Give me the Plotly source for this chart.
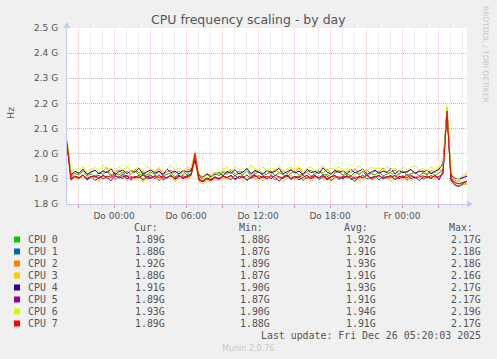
import numpy as np
import pandas as pd
import plotly.graph_objects as go

# ---------------- data (MHz, 20-minute samples) ----------------
start_time = "2025-12-24 20:05"
sample_freq = "20min"
x_range = ["2025-12-24 20:05", "2025-12-26 05:25"]

names = ["CPU 0", "CPU 1", "CPU 2", "CPU 3", "CPU 4", "CPU 5", "CPU 6", "CPU 7"]
colors = ["#00CC00", "#0066B3", "#FF8000", "#FFCC00", "#330099", "#990099", "#CCFF00", "#FF0000"]

cpu0 = [2055, 1906, 1922, 1915, 1930, 1912, 1920, 1908, 1925, 1918,
        1931, 1910, 1922, 1915, 1928, 1906, 1920, 1933, 1914, 1921,
        1909, 1926, 1917, 1930, 1912, 1919, 1924, 1908, 1921, 1931,
        1915, 1935, 1990, 1908, 1902, 1915, 1909, 1920, 1912, 1925,
        1918, 1930, 1911, 1924, 1916, 1933, 1909, 1921, 1927, 1913,
        1920, 1931, 1912, 1925, 1917, 1908, 1923, 1930, 1914, 1919,
        1926, 1910, 1921, 1932, 1915, 1918, 1907, 1924, 1929, 1913,
        1920, 1911, 1926, 1917, 1930, 1909, 1922, 1915, 1928, 1912,
        1919, 1925, 1908, 1921, 1932, 1914, 1920, 1927, 1911, 1923,
        1916, 1929, 1913, 1924, 1935, 2170, 1905, 1884, 1880, 1887,
        1890]
cpu1 = [2040, 1895, 1908, 1901, 1915, 1898, 1910, 1893, 1905, 1912,
        1900, 1916, 1896, 1907, 1902, 1913, 1894, 1909, 1904, 1917,
        1899, 1906, 1911, 1893, 1908, 1903, 1915, 1897, 1910, 1905,
        1912, 1920, 1975, 1896, 1890, 1903, 1897, 1908, 1900, 1912,
        1905, 1896, 1914, 1901, 1909, 1894, 1906, 1916, 1899, 1910,
        1903, 1913, 1895, 1908, 1901, 1917, 1898, 1906, 1911, 1893,
        1909, 1902, 1915, 1897, 1907, 1912, 1894, 1905, 1910, 1900,
        1914, 1896, 1908, 1903, 1916, 1899, 1906, 1911, 1895, 1909,
        1902, 1913, 1897, 1907, 1912, 1894, 1910, 1904, 1915, 1898,
        1908, 1901, 1914, 1896, 1925, 2180, 1892, 1874, 1870, 1878,
        1880]
cpu2 = [2045, 1912, 1930, 1922, 1940, 1918, 1928, 1935, 1920, 1932,
        1945, 1916, 1927, 1936, 1921, 1930, 1918, 1938, 1924, 1929,
        1915, 1933, 1926, 1941, 1919, 1928, 1935, 1922, 1931, 1917,
        1936, 1940, 2005, 1912, 1905, 1920, 1914, 1926, 1918, 1930,
        1924, 1937, 1919, 1931, 1926, 1942, 1917, 1928, 1934, 1921,
        1930, 1916, 1938, 1925, 1932, 1919, 1936, 1927, 1943, 1920,
        1929, 1935, 1918, 1931, 1924, 1940, 1921, 1927, 1934, 1916,
        1932, 1925, 1939, 1920, 1928, 1936, 1919, 1931, 1926, 1944,
        1922, 1929, 1935, 1917, 1930, 1924, 1938, 1921, 1927, 1933,
        1919, 1936, 1925, 1940, 1930, 2180, 1910, 1893, 1890, 1905,
        1920]
cpu3 = [2030, 1890, 1906, 1898, 1912, 1894, 1903, 1915, 1889, 1908,
        1900, 1913, 1895, 1905, 1918, 1892, 1907, 1899, 1911, 1886,
        1904, 1916, 1897, 1909, 1893, 1906, 1912, 1890, 1903, 1914,
        1898, 1910, 1970, 1888, 1880, 1895, 1885, 1900, 1892, 1906,
        1899, 1912, 1894, 1907, 1888, 1903, 1915, 1896, 1909, 1891,
        1905, 1913, 1897, 1908, 1886, 1902, 1916, 1893, 1906, 1899,
        1911, 1890, 1904, 1914, 1896, 1908, 1887, 1903, 1912, 1895,
        1907, 1899, 1915, 1891, 1905, 1910, 1894, 1902, 1918, 1897,
        1906, 1889, 1904, 1913, 1898, 1909, 1892, 1905, 1914, 1896,
        1903, 1911, 1893, 1907, 1920, 2160, 1890, 1872, 1870, 1876,
        1880]
cpu4 = [2035, 1915, 1930, 1922, 1938, 1918, 1927, 1934, 1920, 1931,
        1924, 1940, 1917, 1929, 1935, 1921, 1932, 1926, 1943, 1919,
        1928, 1936, 1922, 1931, 1917, 1939, 1925, 1930, 1920, 1934,
        1927, 1933, 1975, 1915, 1908, 1920, 1905, 1918, 1925, 1912,
        1930, 1922, 1937, 1919, 1928, 1941, 1921, 1933, 1926, 1918,
        1935, 1924, 1930, 1942, 1920, 1929, 1936, 1923, 1931, 1917,
        1938, 1925, 1930, 1921, 1944, 1927, 1919, 1934, 1926, 1932,
        1920, 1937, 1924, 1931, 1939, 1918, 1928, 1935, 1922, 1930,
        1926, 1941, 1919, 1933, 1925, 1929, 1937, 1921, 1932, 1927,
        1935, 1920, 1930, 1938, 1962, 2170, 1915, 1902, 1900, 1905,
        1910]
cpu5 = [2040, 1898, 1910, 1903, 1916, 1896, 1908, 1912, 1900, 1915,
        1905, 1892, 1911, 1907, 1918, 1899, 1909, 1904, 1914, 1895,
        1908, 1913, 1901, 1917, 1897, 1906, 1911, 1903, 1915, 1900,
        1909, 1914, 1985, 1895, 1888, 1900, 1893, 1905, 1898, 1910,
        1904, 1915, 1897, 1909, 1912, 1894, 1907, 1916, 1901, 1910,
        1899, 1913, 1906, 1890, 1908, 1914, 1902, 1911, 1896, 1907,
        1915, 1900, 1909, 1904, 1917, 1895, 1908, 1912, 1898, 1906,
        1911, 1903, 1889, 1910, 1905, 1916, 1899, 1908, 1913, 1901,
        1907, 1914, 1896, 1910, 1904, 1918, 1900, 1909, 1893, 1906,
        1912, 1902, 1915, 1898, 1930, 2170, 1895, 1876, 1870, 1882,
        1890]
cpu6 = [2060, 1925, 1940, 1932, 1950, 1928, 1938, 1945, 1930, 1955,
        1936, 1942, 1929, 1948, 1934, 1952, 1927, 1940, 1945, 1931,
        1950, 1938, 1933, 1946, 1926, 1941, 1953, 1935, 1944, 1930,
        1948, 1942, 1995, 1920, 1905, 1915, 1902, 1925, 1918, 1938,
        1945, 1932, 1950, 1936, 1941, 1928, 1955, 1939, 1933, 1947,
        1930, 1944, 1937, 1952, 1929, 1940, 1946, 1934, 1950, 1927,
        1941, 1948, 1932, 1938, 1954, 1930, 1943, 1936, 1949, 1928,
        1945, 1933, 1940, 1951, 1935, 1929, 1947, 1938, 1944, 1931,
        1950, 1937, 1942, 1930, 1948, 1934, 1945, 1952, 1936, 1941,
        1933, 1947, 1939, 1950, 1945, 2190, 1925, 1905, 1900, 1915,
        1930]
cpu7 = [2045, 1900, 1912, 1905, 1915, 1902, 1910, 1907, 1914, 1899,
        1911, 1906, 1916, 1903, 1909, 1913, 1901, 1910, 1905, 1915,
        1908, 1902, 1913, 1906, 1911, 1904, 1916, 1900, 1909, 1912,
        1905, 1915, 2000, 1898, 1893, 1904, 1897, 1908, 1902, 1911,
        1906, 1913, 1900, 1910, 1904, 1915, 1902, 1909, 1912, 1906,
        1911, 1901, 1914, 1907, 1903, 1912, 1899, 1910, 1905, 1916,
        1902, 1909, 1913, 1904, 1911, 1900, 1908, 1914, 1903, 1910,
        1906, 1912, 1899, 1911, 1905, 1915, 1902, 1909, 1913, 1904,
        1910, 1906, 1914, 1900, 1911, 1905, 1916, 1903, 1909, 1912,
        1904, 1913, 1907, 1910, 1920, 2170, 1898, 1885, 1880, 1884,
        1890]
series = [cpu0, cpu1, cpu2, cpu3, cpu4, cpu5, cpu6, cpu7]

cur_vals = ["1.89G", "1.88G", "1.92G", "1.88G", "1.91G", "1.89G", "1.93G", "1.89G"]
min_vals = ["1.88G", "1.87G", "1.89G", "1.87G", "1.90G", "1.87G", "1.90G", "1.88G"]
avg_vals = ["1.92G", "1.91G", "1.93G", "1.91G", "1.93G", "1.91G", "1.94G", "1.91G"]
max_vals = ["2.17G", "2.18G", "2.18G", "2.16G", "2.17G", "2.17G", "2.19G", "2.17G"]

y_ticks = [1.8, 1.9, 2.0, 2.1, 2.2, 2.3, 2.4, 2.5]
y_ticktext = ["1.8 G", "1.9 G", "2.0 G", "2.1 G", "2.2 G", "2.3 G", "2.4 G", "2.5 G"]
x_major = pd.date_range("2025-12-24 21:00", "2025-12-26 03:00", freq="3h")
x_ticktext = ["", "Do 00:00", "", "Do 06:00", "", "Do 12:00", "", "Do 18:00", "", "Fr 00:00", ""]

# ---------------- figure ----------------
W, H = 497, 359
L, R, T, B = 67, 30, 28, 155
PW, PH = W - L - R, H - T - B

def px(x):
    return (x - L) / PW

def py(y):
    return (H - B - y) / PH

times = pd.date_range(start_time, periods=len(cpu0), freq=sample_freq)

fig = go.Figure()
for name, col, vals in zip(names, colors, series):
    fig.add_trace(go.Scatter(x=times, y=np.array(vals) / 1000.0, mode="lines",
                             name=name, line=dict(color=col, width=1),
                             showlegend=False, hoverinfo="skip"))

MAJ = "#e8b0b0"
MAJ_V = "#f0c8c8"
MIN = "#dcdcdc"
AX = "#c8c8f4"
TXT = "#555555"
tick_font = dict(family="DejaVu Sans", size=9, color=TXT)

fig.update_layout(
    width=W, height=H,
    margin=dict(l=L, r=R, t=T, b=B, pad=0),
    paper_bgcolor="#F0F0F0", plot_bgcolor="#FFFFFF",
    xaxis=dict(type="date", range=x_range, tickmode="array",
               tickvals=x_major, ticktext=x_ticktext,
               showgrid=True, gridcolor=MAJ_V, griddash="1px,1px", gridwidth=1,
               minor=dict(tickmode="linear", tick0="2025-12-24 21:00", dtick=3600000,
                          showgrid=True, gridcolor=MIN, griddash="1px,1px", gridwidth=1,
                          ticks="outside", ticklen=2, tickcolor=MIN),
               showline=True, linecolor=AX, linewidth=1, zeroline=False,
               ticks="outside", ticklen=3, tickcolor="#e09090",
               tickfont=tick_font, ticklabelstandoff=0),
    yaxis=dict(range=[1.8, 2.5], tickmode="array", tickvals=y_ticks, ticktext=y_ticktext,
               showgrid=True, gridcolor=MAJ, griddash="1px,1px", gridwidth=1,
               showline=True, linecolor=AX, linewidth=1, zeroline=False,
               ticks="", tickfont=tick_font, ticklabelstandoff=6),
)

shapes = []
# axis arrows
shapes.append(dict(type="path", xref="paper", yref="paper", xsizemode="pixel", ysizemode="pixel",
                   xanchor=1, yanchor=0, path="M 0,-3.5 L 6,0 L 0,3.5 Z",
                   fillcolor=AX, line=dict(width=0)))
shapes.append(dict(type="path", xref="paper", yref="paper", xsizemode="pixel", ysizemode="pixel",
                   xanchor=0, yanchor=1, path="M -3.5,0 L 3.5,0 L 0,6 Z",
                   fillcolor=AX, line=dict(width=0)))

annotations = []

def ann(text, x, y, xanchor="left", size=9.9, color=TXT, family="DejaVu Sans Mono", angle=0):
    annotations.append(dict(text=text, x=px(x), y=py(y), xref="paper", yref="paper",
                            xanchor=xanchor, yanchor="middle", showarrow=False,
                            textangle=angle, font=dict(family=family, size=size, color=color)))

ann("CPU frequency scaling - by day", 248, 19, xanchor="center", size=12.5, family="DejaVu Sans")
ann("Hz", 10, 113, xanchor="center", size=9.5, family="DejaVu Sans", angle=-90)
ann("RRDTOOL / TOBI OETIKER", 486, 54, xanchor="center", size=7.5, color="#c8c8c8",
    family="DejaVu Sans", angle=90)

header_y = 227.5
for hx, ht in zip([131.7, 236.7, 341.7, 446.7], ["Cur:", "Min:", "Avg:", "Max:"]):
    ann(ht, hx, header_y)

row_y0, row_dy = 239.5, 12.0
for i, (name, col) in enumerate(zip(names, colors)):
    yy = row_y0 + i * row_dy
    shapes.append(dict(type="rect", xref="paper", yref="paper",
                       x0=px(14), x1=px(20), y0=py(yy + 3), y1=py(yy - 3),
                       fillcolor=col, line=dict(width=0)))
    ann(name, 26, yy)
    for rx, vals in zip([166.7, 272.0, 377.7, 482.7], [cur_vals, min_vals, avg_vals, max_vals]):
        ann(vals[i], rx, yy, xanchor="right")

ann("Last update: Fri Dec 26 05:20:03 2025", 482.7, 335.5, xanchor="right")
ann("Munin 2.0.76", 248, 348.5, xanchor="center", size=8, color="#c8c8c8", family="DejaVu Sans")

fig.update_layout(shapes=shapes, annotations=annotations)
fig.write_html("out.html")
